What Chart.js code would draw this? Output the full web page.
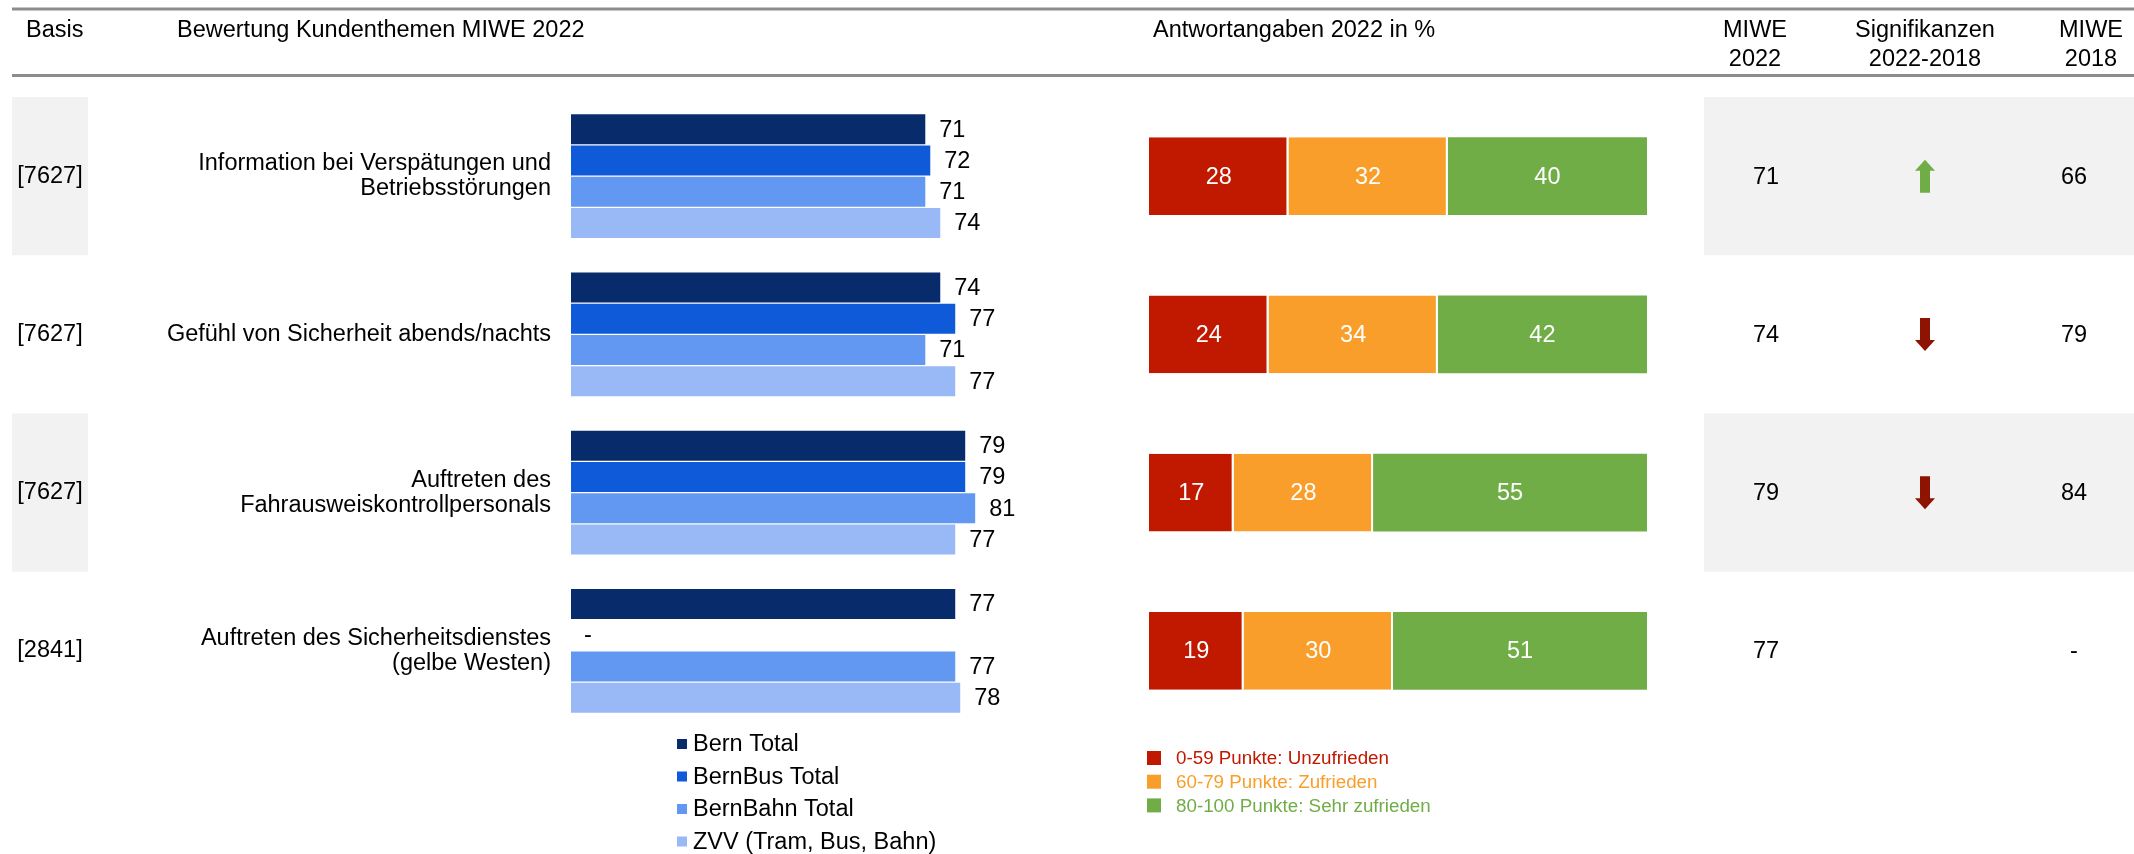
<!DOCTYPE html>
<html>
<head>
<meta charset="utf-8">
<script src="https://cdn.jsdelivr.net/npm/chart.js@4.4.1/dist/chart.umd.min.js"></script>
<style>
  html, body { margin: 0; padding: 0; background: #fff; }
  #wrap { position: relative; width: 2134px; height: 854px; }
  #wrap canvas { position: absolute; left: 0; top: 0; }
</style>
</head>
<body>
<div id="wrap">
  <canvas id="bars" width="2134" height="854"></canvas>
  <canvas id="stack" width="2134" height="854"></canvas>
</div>
<script>
// Kundenthemen (Zeilen)
const categories = [
  ['Information bei Verspätungen und', 'Betriebsstörungen'],
  ['Gefühl von Sicherheit abends/nachts'],
  ['Auftreten des', 'Fahrausweiskontrollpersonals'],
  ['Auftreten des Sicherheitsdienstes', '(gelbe Westen)']
]
const basis = ['[7627]', '[7627]', '[7627]', '[2841]']

// Bewertung MIWE 2022 je Teilnetz
const seriesNames = ['Bern Total', 'BernBus Total', 'BernBahn Total', 'ZVV (Tram, Bus, Bahn)']
const bernTotal = [71, 74, 79, 77]
const bernBus = [72, 77, 79, null]
const bernBahn = [71, 71, 81, 77]
const zvv = [74, 77, 77, 78]

// Antwortangaben 2022 in %
const answerNames = ['0-59 Punkte: Unzufrieden', '60-79 Punkte: Zufrieden', '80-100 Punkte: Sehr zufrieden']
const unzufrieden = [28, 24, 17, 19]
const zufrieden = [32, 34, 28, 30]
const sehrZufrieden = [40, 42, 55, 51]

// Rechte Spalten
const miwe2022 = ['71', '74', '79', '77']
const signifikanz = ['up', 'down', 'down', '']
const miwe2018 = ['66', '79', '84', '-']

const FONT = '"Liberation Sans", Arial, sans-serif'
const blues = ['#082b6b', '#0f5ad8', '#6398f2', '#98b9f6']
const answerColors = ['#c01900', '#f99e2a', '#70ad47']

function rowInfo(chart) {
  const y = chart.scales.y
  const half = (y.getPixelForValue(1) - y.getPixelForValue(0)) / 2
  return categories.map((c, i) => ({ cy: y.getPixelForValue(i), half: half }))
}

function drawArrow(ctx, x, y, dir, color) {
  const h = 33, hw = 10, sw = 5, hh = 11
  const s = dir === 'up' ? 1 : -1
  const tip = y - s * h / 2
  const neck = tip + s * hh
  const end = y + s * h / 2
  ctx.save()
  ctx.fillStyle = color
  ctx.beginPath()
  ctx.moveTo(x, tip)
  ctx.lineTo(x + hw, neck)
  ctx.lineTo(x + sw, neck)
  ctx.lineTo(x + sw, end)
  ctx.lineTo(x - sw, end)
  ctx.lineTo(x - sw, neck)
  ctx.lineTo(x - hw, neck)
  ctx.closePath()
  ctx.fill()
  ctx.restore()
}

const tablePlugin = {
  id: 'tableLayout',
  beforeDraw(chart) {
    const ctx = chart.ctx
    const rows = rowInfo(chart)
    ctx.save()
    // graue Zeilen
    ctx.fillStyle = '#f2f2f2'
    rows.forEach((r, i) => {
      if (i % 2 === 0) {
        ctx.fillRect(12, r.cy - r.half, 76, r.half * 2)
        ctx.fillRect(1704, r.cy - r.half, 430, r.half * 2)
      }
    })
    // Kopflinien
    ctx.strokeStyle = '#8c8c8c'
    ctx.lineWidth = 3
    ctx.beginPath()
    ctx.moveTo(12, 9); ctx.lineTo(2134, 9)
    ctx.moveTo(12, 75.5); ctx.lineTo(2134, 75.5)
    ctx.stroke()

    ctx.fillStyle = '#000'
    ctx.font = '23.5px ' + FONT
    ctx.textBaseline = 'middle'
    ctx.textAlign = 'left'
    ctx.fillText('Basis', 26, 31)
    ctx.fillText('Bewertung Kundenthemen MIWE 2022', 177, 31)
    ctx.fillText('Antwortangaben 2022 in %', 1153, 31)
    ctx.textAlign = 'center'
    ctx.fillText('MIWE', 1755, 31)
    ctx.fillText('2022', 1755, 60)
    ctx.fillText('Signifikanzen', 1925, 31)
    ctx.fillText('2022-2018', 1925, 60)
    ctx.fillText('MIWE', 2091, 31)
    ctx.fillText('2018', 2091, 60)
    ctx.restore()
  },
  afterDatasetsDraw(chart) {
    const ctx = chart.ctx
    const rows = rowInfo(chart)
    const x0 = chart.scales.x.getPixelForValue(0)
    ctx.save()
    ctx.font = '23.5px ' + FONT
    ctx.textBaseline = 'middle'
    ctx.fillStyle = '#000'

    // Werte an den Balken
    chart.data.datasets.forEach((ds, di) => {
      chart.getDatasetMeta(di).data.forEach((bar, i) => {
        ctx.textAlign = 'left'
        if (ds.data[i] == null) {
          ctx.textAlign = 'center'
          ctx.fillText('-', x0 + 17, bar.y)
        } else {
          ctx.fillText(ds.data[i], bar.x + 14, bar.y + 1)
        }
      })
    })

    rows.forEach((r, i) => {
      ctx.fillStyle = '#000'
      // Basis
      ctx.textAlign = 'center'
      ctx.fillText(basis[i], 50, r.cy)
      // Kategorie
      ctx.textAlign = 'right'
      const lines = categories[i]
      const lh = 25
      lines.forEach((t, li) => {
        ctx.fillText(t, 551, r.cy + (li - (lines.length - 1) / 2) * lh)
      })
      // rechte Spalten
      ctx.textAlign = 'center'
      ctx.fillText(miwe2022[i], 1766, r.cy + 1)
      ctx.fillText(miwe2018[i], 2074, r.cy + 1)
      if (signifikanz[i] === 'up') drawArrow(ctx, 1925, r.cy, 'up', '#70ad47')
      if (signifikanz[i] === 'down') drawArrow(ctx, 1925, r.cy, 'down', '#8e1300')
    })

    // Legende links
    ctx.textAlign = 'left'
    seriesNames.forEach((name, i) => {
      const ly = 744 + i * 32.5
      ctx.fillStyle = blues[i]
      ctx.fillRect(677, ly - 5, 10, 10)
      ctx.fillStyle = '#000'
      ctx.fillText(name, 693, ly + 1)
    })
    ctx.restore()
  }
}

new Chart(document.getElementById('bars').getContext('2d'), {
  type: 'bar',
  data: {
    labels: categories,
    datasets: [bernTotal, bernBus, bernBahn, zvv].map((d, i) => ({
      label: seriesNames[i],
      data: d,
      backgroundColor: blues[i],
      borderWidth: 0,
      barPercentage: 0.96,
      categoryPercentage: 0.79
    }))
  },
  options: {
    indexAxis: 'y',
    responsive: false,
    animation: false,
    layout: { padding: { left: 571, right: 2134 - 1070, top: 97, bottom: 854 - 730 } },
    scales: {
      x: { display: false, min: 0, max: 100 },
      y: { display: false }
    },
    plugins: { legend: { display: false }, tooltip: { enabled: false } }
  },
  plugins: [tablePlugin]
})

const stackPlugin = {
  id: 'stackLabels',
  afterDatasetsDraw(chart) {
    const ctx = chart.ctx
    ctx.save()
    ctx.font = '23.5px ' + FONT
    ctx.textBaseline = 'middle'
    ctx.textAlign = 'center'
    ctx.fillStyle = '#fff'
    chart.data.datasets.forEach((ds, di) => {
      chart.getDatasetMeta(di).data.forEach((bar, i) => {
        const c = bar.getCenterPoint()
        ctx.fillText(ds.data[i], c.x, c.y + 1)
      })
    })
    // Legende rechts
    ctx.font = '18.8px ' + FONT
    ctx.textAlign = 'left'
    answerNames.forEach((name, i) => {
      const ly = 758 + i * 23.7
      ctx.fillStyle = answerColors[i]
      ctx.fillRect(1147, ly - 7, 14, 14)
      ctx.fillText(name, 1176, ly + 1)
    })
    ctx.restore()
  }
}

new Chart(document.getElementById('stack').getContext('2d'), {
  type: 'bar',
  data: {
    labels: categories,
    datasets: [unzufrieden, zufrieden, sehrZufrieden].map((d, i) => ({
      label: answerNames[i],
      data: d,
      backgroundColor: answerColors[i],
      borderColor: '#ffffff',
      borderWidth: i < 2 ? { right: 2, left: 0, top: 0, bottom: 0 } : 0,
      borderSkipped: false,
      barPercentage: 0.49,
      categoryPercentage: 1
    }))
  },
  options: {
    indexAxis: 'y',
    responsive: false,
    animation: false,
    layout: { padding: { left: 1149, right: 2134 - 1647, top: 97, bottom: 854 - 730 } },
    scales: {
      x: { display: false, stacked: true, min: 0, max: 100 },
      y: { display: false, stacked: true }
    },
    plugins: { legend: { display: false }, tooltip: { enabled: false } }
  },
  plugins: [stackPlugin]
})
</script>
</body>
</html>
